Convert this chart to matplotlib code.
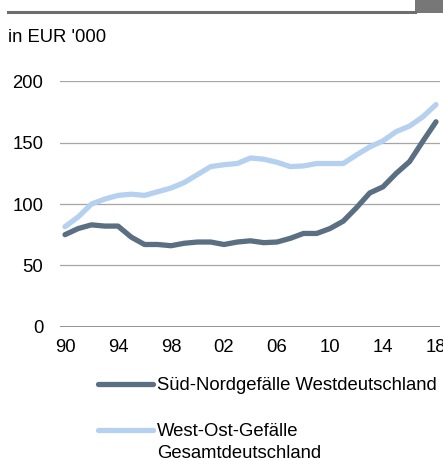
import matplotlib.pyplot as plt
from matplotlib.patches import Rectangle

plt.rcParams["font.family"] = ["Liberation Sans", "DejaVu Sans"]

years = list(range(1990, 2019))

# Süd-Nordgefälle Westdeutschland (EUR '000)
sued_nord = [75, 80, 83, 82, 82, 73, 67, 67, 66, 68, 69, 69, 67, 69, 70, 68.5,
             69, 72, 76, 76, 80, 86, 97, 109, 114, 125, 134.5, 151, 167]

# West-Ost-Gefälle Gesamtdeutschland (EUR '000)
west_ost = [81.5, 89.5, 100, 104, 107, 108, 107, 110, 113, 117.5, 124, 130.5,
            132, 133, 137.5, 136.5, 134, 130.5, 131, 133, 133, 133, 140, 146.5,
            151.5, 159, 163.5, 171, 181]

yticks = [0, 50, 100, 150, 200]
xticks = [1990, 1994, 1998, 2002, 2006, 2010, 2014, 2018]
xtick_labels = ["90", "94", "98", "02", "06", "10", "14", "18"]

dark = "#5b6f83"
light = "#b5d1ef"
fs = 13.3

W, H = 443, 461
fig = plt.figure(figsize=(W / 100, H / 100), dpi=100)

# header rule and grey box at the top
fig.add_artist(plt.Line2D([8 / W, 415 / W], [1 - 12.5 / H, 1 - 12.5 / H],
                          color="#6e6e6e", linewidth=2.2))
fig.add_artist(Rectangle((415 / W, 1 - 13.5 / H), 28 / W, 13.5 / H,
                         transform=fig.transFigure, facecolor="#777777",
                         edgecolor="none"))

fig.text(8 / W, 1 - 37 / H, "in EUR '000", fontsize=fs, va="center", ha="left")

ax = fig.add_axes([60 / W, 1 - 326.7 / H, 380 / W, (326.7 - 81.3) / H])

ax.plot(years, sued_nord, color=dark, linewidth=3.8, solid_capstyle="round",
        label="Süd-Nordgefälle Westdeutschland", zorder=3)
ax.plot(years, west_ost, color=light, linewidth=3.8, solid_capstyle="round",
        label="West-Ost-Gefälle", zorder=2)

ax.set_ylim(0, 200)
ax.set_xlim(1990 - 5 / 13.25, 2018 + 4 / 13.25)
ax.set_yticks(yticks)
ax.set_xticks(xticks)
ax.set_xticklabels(xtick_labels)
ax.tick_params(axis="both", length=0, labelsize=fs)
ax.tick_params(axis="y", pad=12)
ax.tick_params(axis="x", pad=9)

for y in yticks[1:]:
    ax.axhline(y, color="#a6a6a6", linewidth=0.9, zorder=0)
ax.axhline(0, color="#7f7f7f", linewidth=1.2, zorder=0)

for s in ax.spines.values():
    s.set_visible(False)

fig.legend(loc="upper left", bbox_to_anchor=(98 / W, 1 - 377 / H),
           frameon=False, fontsize=fs, handlelength=3.0, handletextpad=0.2,
           labelspacing=1.57, borderpad=0, borderaxespad=0)
# second line of the West-Ost label
fig.text(157 / W, 1 - 453 / H, "Gesamtdeutschland", fontsize=fs,
         va="center", ha="left")

fig.savefig("out.png", dpi=100)
